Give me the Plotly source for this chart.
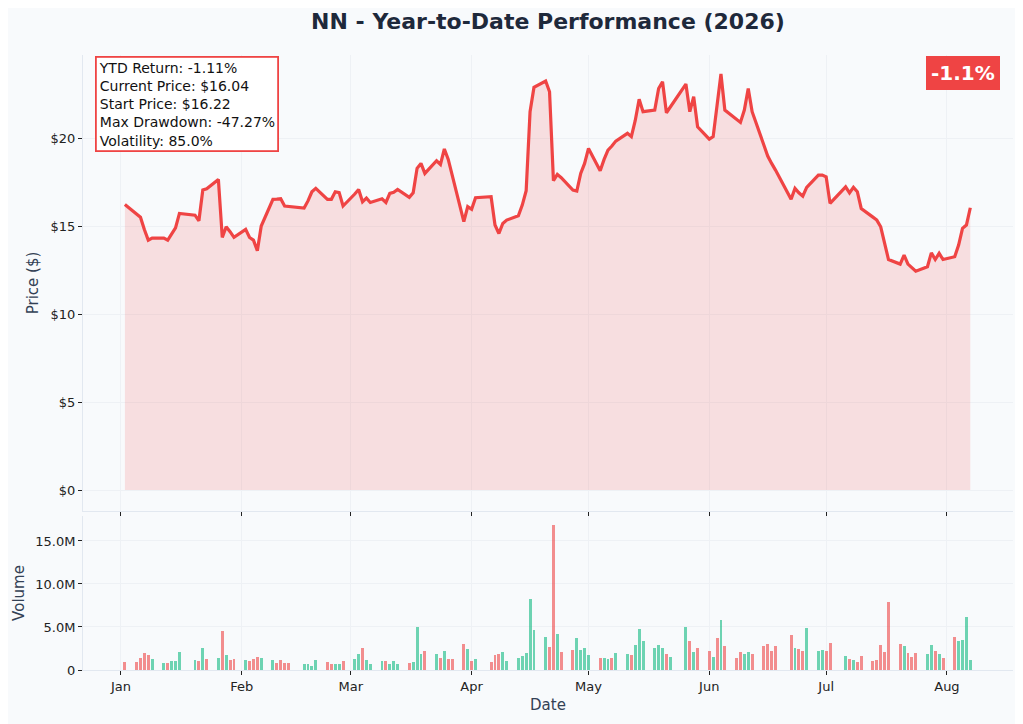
import pandas as pd
import plotly.graph_objects as go
from plotly.subplots import make_subplots

# NYSE holidays in the window
holidays = ['2026-01-19', '2026-02-16', '2026-04-03', '2026-05-25',
            '2026-06-19', '2026-07-03']
dates = pd.bdate_range('2026-01-02', '2026-08-07', freq='C',
                       holidays=holidays)

# closing prices, one per trading day, grouped by month
price_jan = [16.22, 15.72, 15.50, 14.80, 14.20, 14.32, 14.32, 14.20, 14.56,
             14.90, 15.72, 15.62, 15.30, 17.05, 17.12, 17.65, 14.35, 14.96,
             14.68, 14.36]
price_feb = [14.81, 14.35, 14.20, 13.60, 15.00, 16.52, 16.53, 16.55, 16.14,
             16.12, 16.02, 16.43, 16.95, 17.14, 16.52, 16.52, 16.95, 16.90,
             16.14]
price_mar = [16.82, 17.08, 16.38, 16.59, 16.34, 16.55, 16.34, 16.86, 16.92,
             17.08, 16.63, 16.89, 18.28, 18.56, 17.99, 18.71, 18.50, 19.38,
             18.79, 17.92, 15.25, 16.10]
price_apr = [15.95, 16.61, 16.67, 15.06, 14.58, 15.15, 15.34, 15.59, 16.19,
             17.01, 21.50, 22.88, 23.24, 22.63, 17.58, 17.94, 17.75, 17.05,
             16.99, 17.99, 18.56]
price_may = [19.41, 18.14, 18.79, 19.32, 19.55, 19.83, 20.27, 20.08, 21.00,
             22.20, 21.50, 21.59, 22.82, 23.20, 21.44, 21.76, 23.07, 21.50,
             22.35, 20.64]
price_jun = [19.94, 20.08, 21.75, 23.64, 21.59, 21.08, 20.89, 21.59, 22.82,
             21.50, 19.59, 18.98, 18.56, 18.18, 16.52, 17.14, 16.89, 16.70,
             17.20, 17.90, 17.90]
price_jul = [17.80, 16.29, 17.23, 16.89, 17.20, 16.95, 16.00, 15.51, 15.34,
             14.96, 14.02, 13.10, 12.84, 13.35, 12.84, 12.65, 12.44, 12.69,
             13.48, 13.10, 13.45, 13.10]
price_aug = [13.26, 13.92, 14.87, 15.06, 16.04]

# daily volume in millions
vol_jan = [0.93, 0.93, 1.40, 1.98, 1.74, 1.28, 0.81, 0.81, 1.05, 1.05, 2.09,
           1.16, 1.05, 2.56, 1.28, 1.40, 4.53, 1.74, 1.16, 1.28]
vol_feb = [1.16, 1.05, 1.28, 1.51, 1.40, 1.16, 0.81, 1.16, 0.81, 0.81, 0.70,
           0.70, 0.47, 1.16, 0.93, 0.70, 0.70, 0.70, 1.05]
vol_mar = [1.28, 1.86, 2.56, 1.16, 0.70, 1.05, 1.05, 0.70, 1.05, 0.70, 0.81,
           0.93, 5.00, 1.86, 2.21, 1.86, 1.40, 2.21, 1.28, 1.28, 3.02, 2.44]
vol_apr = [1.05, 1.28, 0.93, 1.74, 1.86, 2.09, 1.05, 1.40, 1.63, 1.98, 8.26,
           4.65, 3.84, 2.67, 16.86, 4.19, 2.09, 2.33, 3.72, 2.33, 2.56]
vol_may = [1.74, 1.40, 1.40, 1.28, 1.40, 1.98, 1.86, 1.74, 2.91, 4.77, 3.37,
           2.56, 2.91, 2.56, 1.86, 1.51, 5.00, 3.37, 2.09, 2.56]
vol_jun = [2.21, 1.51, 3.72, 5.81, 2.79, 1.40, 2.09, 1.86, 2.09, 1.86, 2.79,
           3.02, 2.21, 2.79, 4.07, 2.56, 2.44, 2.21, 4.88, 2.21, 2.33]
vol_jul = [2.21, 3.14, 1.63, 1.28, 1.16, 0.93, 1.63, 1.05, 1.16, 2.91, 2.09,
           7.91, 3.02, 2.79, 1.98, 1.51, 1.98, 1.86, 2.91, 2.21, 1.86, 1.40]
vol_aug = [3.84, 3.37, 3.49, 6.16, 1.16]

# up (u) / down (d) day as coloured in the volume panel, week by week
dir_jan = 'd ddddu uduuu udud ududd'
dir_feb = 'udddu udddd uuuu dduud'
dir_mar = 'uuduu uduuu duuud ududd du'
dir_apr = 'du ddduu uuuuu uddud duuu'
dir_may = 'u duudu uduuu uuudu udud'
dir_jun = 'dudud dduud dddd duddu uu'
dir_jul = 'dd ududd ddddd duddd uudud'
dir_aug = 'duuuu'

prices = (price_jan + price_feb + price_mar + price_apr + price_may
          + price_jun + price_jul + price_aug)
volumes = [v * 1e6 for v in (vol_jan + vol_feb + vol_mar + vol_apr + vol_may
                             + vol_jun + vol_jul + vol_aug)]
updown = ''.join([dir_jan, dir_feb, dir_mar, dir_apr, dir_may, dir_jun,
                  dir_jul, dir_aug]).replace(' ', '')

month_ticks = pd.date_range('2026-01-01', '2026-08-01', freq='MS')
month_labels = [d.strftime('%b') for d in month_ticks]

RED = '#ef4444'
BG = '#f8fafc'
TXT = '#334155'

bar_colors = ['rgba(16,185,129,0.6)' if c == 'u' else 'rgba(239,68,68,0.6)'
              for c in updown]

fig = make_subplots(rows=2, cols=1, shared_xaxes=True,
                    vertical_spacing=0.008, row_heights=[0.75, 0.25])

fig.add_trace(go.Scatter(x=dates, y=prices, mode='lines',
                         line=dict(color=RED, width=3.2),
                         fill='tozeroy', fillcolor='rgba(239,68,68,0.15)',
                         showlegend=False), row=1, col=1)
fig.add_trace(go.Bar(x=dates, y=volumes, marker_color=bar_colors,
                     marker_line_width=0, width=0.75 * 86400000,
                     showlegend=False), row=2, col=1)

axis_common = dict(showline=True, linecolor='#e2e8f0', linewidth=1,
                   ticks='outside', ticklen=4, tickcolor='#222',
                   gridcolor='#eef1f5', gridwidth=1, zeroline=False,
                   automargin=False,
                   tickfont=dict(size=13, color='#222'))

fig.update_xaxes(**axis_common, range=['2025-12-22 06:00', '2026-08-17 23:00'],
                 tickvals=month_ticks, ticktext=month_labels)
fig.update_xaxes(showticklabels=False, row=1, col=1)
fig.update_xaxes(title=dict(text='Date', font=dict(size=15, color=TXT),
                            standoff=6), row=2, col=1)

fig.update_yaxes(**axis_common)
fig.update_yaxes(range=[-1.19, 24.72], tickvals=[0, 5, 10, 15, 20],
                 ticktext=['$0', '$5', '$10', '$15', '$20'],
                 title=dict(text='Price ($)', font=dict(size=15, color=TXT),
                            standoff=8),
                 row=1, col=1)
fig.update_yaxes(range=[0, 17.9e6], tickvals=[0, 5e6, 10e6, 15e6],
                 ticktext=['0', '5.0M', '10.0M', '15.0M'],
                 title=dict(text='Volume', font=dict(size=15, color=TXT),
                            standoff=6),
                 row=2, col=1)

stats = ('YTD Return: -1.11%<br>Current Price: $16.04<br>'
         'Start Price: $16.22<br>Max Drawdown: -47.27%<br>Volatility: 85.0%')

# the page body adds an 8px offset, so the figure is 8px smaller
fig.update_layout(
    width=1015, height=716,
    paper_bgcolor=BG, plot_bgcolor=BG,
    font=dict(family='DejaVu Sans', color='#111'),
    margin=dict(l=75, r=10, t=47, b=54),
    bargap=0,
    title=dict(text='<b>NN - Year-to-Date Performance (2026)</b>',
               x=0.532, xanchor='center', y=0.981, yanchor='middle',
               font=dict(size=22, color='#1e293b')),
    annotations=[
        dict(text=stats, xref='paper', yref='paper', x=0.0129, y=0.998,
             xanchor='left', yanchor='top', align='left', showarrow=False,
             font=dict(size=14, color='#111'), bgcolor='white',
             bordercolor=RED, borderwidth=1.8, borderpad=2),
        dict(text='<b>-1.1%</b>', xref='paper', yref='paper', x=0.986,
             y=0.999, xanchor='right', yanchor='top', showarrow=False,
             font=dict(size=20, color='white'), bgcolor=RED,
             bordercolor=RED, borderwidth=1, borderpad=4),
    ],
)
fig.update_yaxes(domain=[0.2585, 1.0], row=1, col=1)
fig.update_yaxes(domain=[0.0, 0.2504], row=2, col=1)

fig.write_html('out.html')
